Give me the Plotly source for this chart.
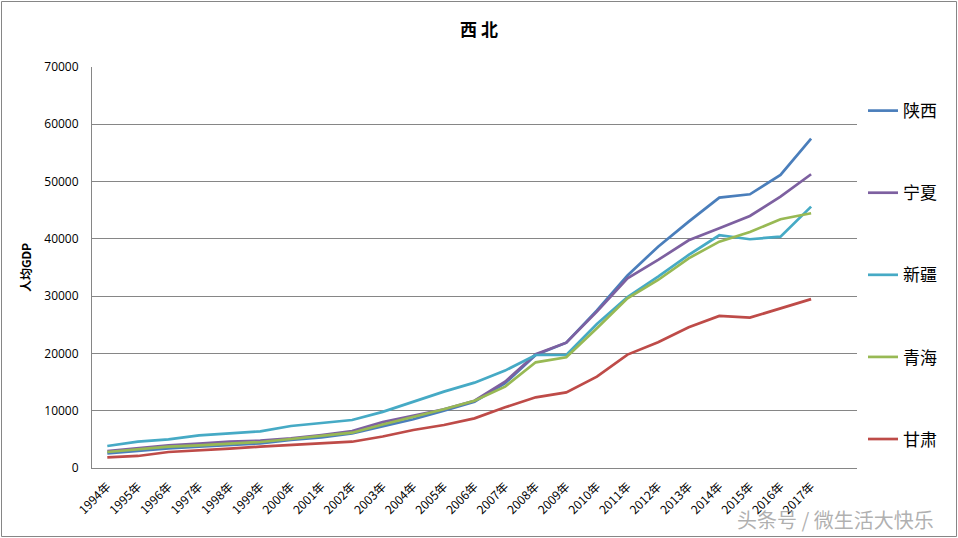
import plotly.graph_objects as go

years = [f"{y}年" for y in range(1994, 2018)]

shaanxi = [2560, 3020, 3440, 3720, 4020, 4310, 4890, 5360, 6050, 7300, 8500, 10010, 11580, 14790, 19730, 21880,
           27500, 33600, 38640, 43010, 47200, 47780, 51160, 57500]
ningxia = [2970, 3490, 3960, 4250, 4590, 4770, 5180, 5760, 6460, 8000, 9130, 10250, 11750, 15070, 19850, 21880,
           27290, 33120, 36320, 39750, 41850, 44000, 47370, 51280]
xinjiang = [3840, 4590, 5000, 5700, 6050, 6400, 7330, 7910, 8380, 9800, 11580, 13330, 14900, 17000, 19730, 19730,
            25140, 29850, 33400, 37190, 40630, 39930, 40390, 45620]
qinghai = [2790, 3260, 3720, 3960, 4310, 4540, 5060, 5590, 6160, 7600, 8960, 10250, 11750, 14200, 18450, 19330,
           24390, 29630, 32820, 36610, 39510, 41210, 43420, 44470]
gansu = [1870, 2100, 2790, 3020, 3370, 3720, 4020, 4190, 4590, 5500, 6630, 7510, 8670, 10590, 12340, 13210,
         15940, 19800, 21950, 24560, 26540, 26250, 27880, 29480]

series = [
    ("陕西", shaanxi, "#4A7EBB"),
    ("宁夏", ningxia, "#7D60A0"),
    ("新疆", xinjiang, "#46AAC5"),
    ("青海", qinghai, "#98B954"),
    ("甘肃", gansu, "#BE4B48"),
]

yticks = [0, 10000, 20000, 30000, 40000, 50000, 60000, 70000]

fig = go.Figure()
xs = list(range(len(years)))
for name, vals, color in series:
    fig.add_trace(go.Scatter(
        x=xs, y=vals, name=name, mode="lines",
        line=dict(color=color, width=2.7),
        legendgroup=name,
    ))

fig.update_layout(
    width=958, height=538,
    margin=dict(l=92, r=101, t=67, b=70),
    paper_bgcolor="white", plot_bgcolor="white",
    title=dict(text="<b>西 北</b>", x=0.5, xanchor="center", y=0.945, yanchor="middle",
               font=dict(family="Noto Sans CJK SC", size=17, color="black")),
    font=dict(family="Open Sans, Noto Sans CJK SC", color="black"),
    showlegend=True,
    legend=dict(x=1.0 + 6 / 765, xanchor="left", y=0.935, yanchor="top",
                font=dict(family="Noto Sans CJK SC", size=17, color="black"),
                tracegroupgap=57, itemwidth=30, bgcolor="rgba(0,0,0,0)"),
    xaxis=dict(
        range=[-0.5, 24.5], tickmode="array", tickvals=xs, ticktext=years,
        tickangle=-45, tickfont=dict(family="Noto Sans CJK SC", size=12, color="black"),
        showgrid=False, showline=True, linecolor="#868686", linewidth=1,
        ticks="", zeroline=False, ticklabelstandoff=6,
    ),
    yaxis=dict(
        range=[0, 70000], tickmode="array", tickvals=yticks, ticktext=[str(v) for v in yticks],
        tickfont=dict(family="Open Sans", size=12, color="black"),
        showgrid=True, gridcolor="#868686", gridwidth=1,
        showline=True, linecolor="#868686", linewidth=1,
        ticks="", zeroline=False, ticklabelstandoff=10,
        title=dict(text="<b>人均GDP</b>", font=dict(family="Noto Sans CJK SC", size=12, color="black"),
                   standoff=10),
    ),
    shapes=[dict(type="rect", xref="paper", yref="paper",
                 x0=(1.5 - 92) / 765, x1=(956.5 - 92) / 765,
                 y0=(468 - 536.5) / 401, y1=(468 - 1.5) / 401,
                 line=dict(color="#868686", width=1), fillcolor="rgba(0,0,0,0)", layer="below")],
    annotations=[dict(text="头条号 / 微生活大快乐", xref="paper", yref="paper",
                      x=(936 - 92) / 765, y=(468 - 519) / 401, xanchor="right", yanchor="middle",
                      showarrow=False,
                      font=dict(family="Noto Sans CJK SC", size=20, color="rgba(150,150,150,0.75)"))],
)

fig.write_html("out.html", config={"displayModeBar": False},
               post_script="document.body.style.margin='0';document.body.style.overflow='hidden';")
